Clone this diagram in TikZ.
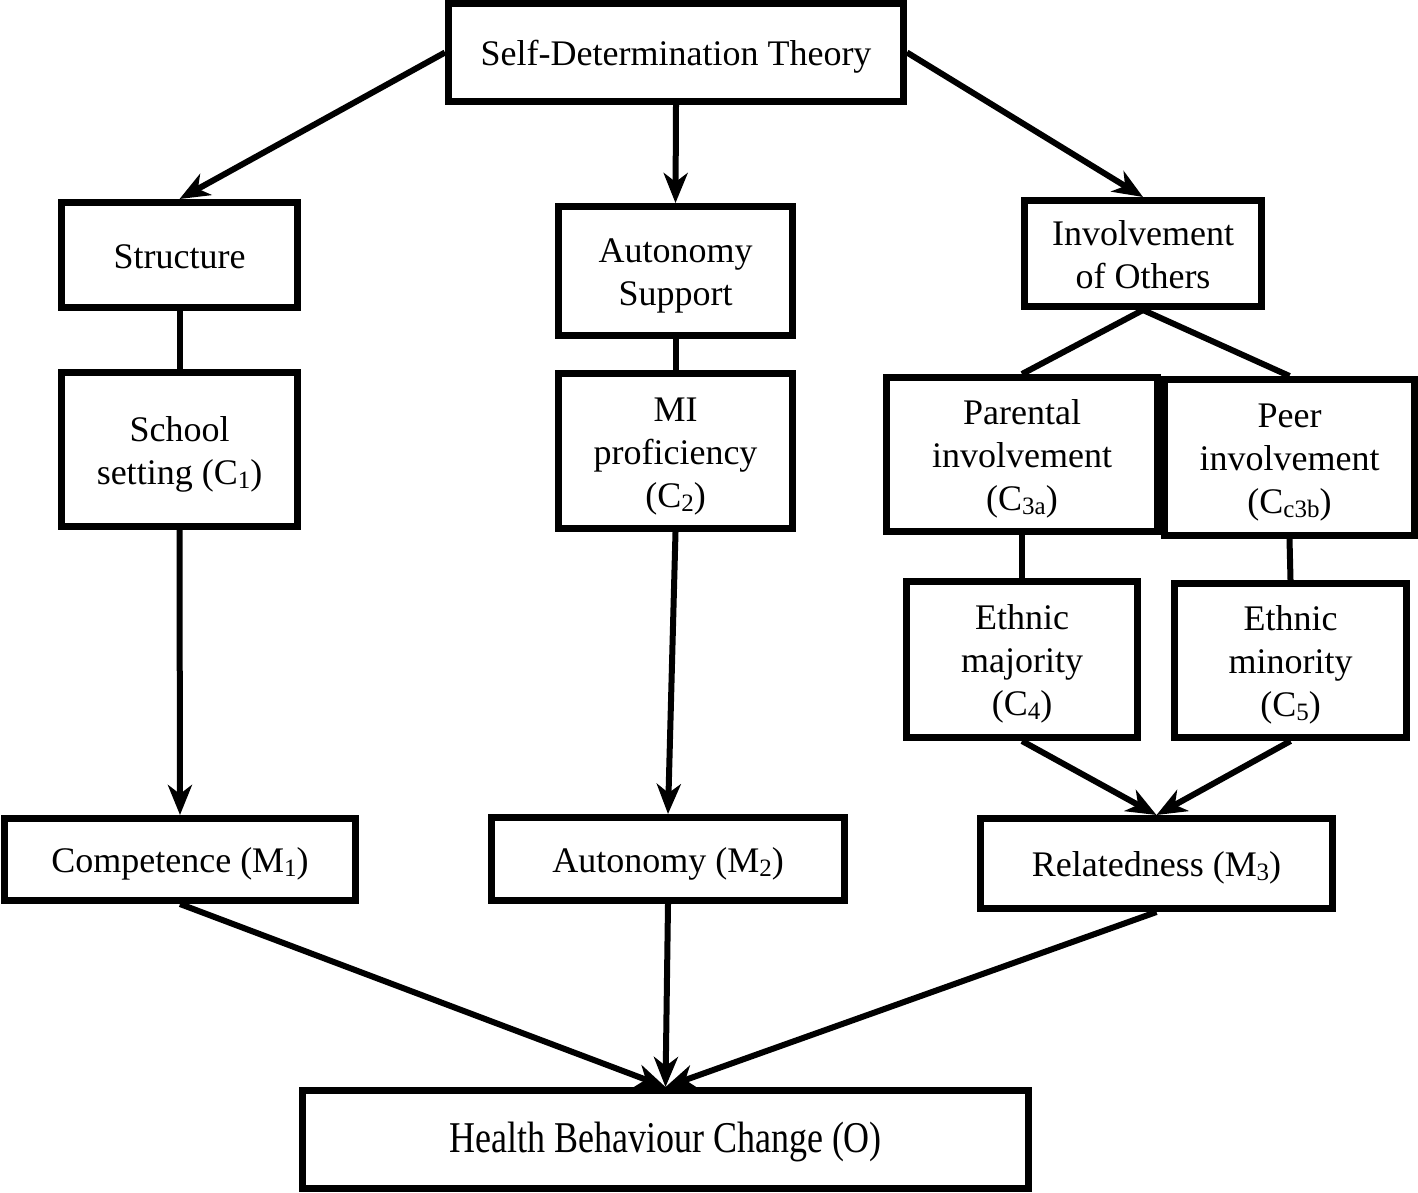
\documentclass[tikz,border=0pt]{standalone}
\usepackage{fontspec}
\setmainfont{Liberation Serif}
\usetikzlibrary{arrows.meta}
\newcommand\lowsub[1]{\raisebox{-0.25ex}{\fontsize{25}{25}\selectfont #1}}
\newcommand\bt[1]{\raisebox{-4.5pt}[\height][\depth]{\begin{tabular}{@{}c@{}}#1\end{tabular}}}
\begin{document}
\begin{tikzpicture}[x=1pt,y=-1pt,
  box/.style={draw, line width=7pt, inner sep=0pt, align=center,
    font=\fontsize{36}{43}\selectfont},
  conn/.style={line width=6pt},
  arr/.style={line width=6pt, -{Stealth[length=30pt,width=24pt,inset=9pt]}}]
\useasboundingbox (0,0) rectangle (1418,1192);
\node[box, minimum width=455pt, minimum height=98pt] (sdt) at (676,52.5) {\bt{Self-Determination Theory}};
\node[box, minimum width=236pt, minimum height=105pt] (str) at (179.5,255) {\bt{Structure}};
\node[box, minimum width=234pt, minimum height=129pt] (aus) at (675.5,271) {\bt{Autonomy\\Support}};
\node[box, minimum width=237pt, minimum height=106pt] (inv) at (1143,253.5) {\bt{Involvement\\of Others}};
\node[box, minimum width=236pt, minimum height=154pt] (sch) at (179.5,449.5) {\bt{School\\setting (C\lowsub{1})}};
\node[box, minimum width=234pt, minimum height=155pt] (mi) at (675.5,451) {\bt{MI\\proficiency\\(C\lowsub{2})}};
\node[box, minimum width=271pt, minimum height=154pt] (par) at (1022,454.5) {\bt{Parental\\involvement\\(C\lowsub{3a})}};
\node[box, minimum width=250pt, minimum height=156pt] (peer) at (1289.5,457.5) {\bt{Peer\\involvement\\(C\lowsub{c3b})}};
\node[box, minimum width=231pt, minimum height=156pt] (maj) at (1022,659.5) {\bt{Ethnic\\majority\\(C\lowsub{4})}};
\node[box, minimum width=232pt, minimum height=154pt] (min) at (1290.5,660.5) {\bt{Ethnic\\minority\\(C\lowsub{5})}};
\node[box, minimum width=351pt, minimum height=82pt] (comp) at (180,859.5) {\bt{Competence (M\lowsub{1})}};
\node[box, minimum width=353pt, minimum height=83pt] (aut) at (668,859) {\bt{Autonomy (M\lowsub{2})}};
\node[box, minimum width=352pt, minimum height=90pt] (rel) at (1156.5,863.5) {\bt{Relatedness (M\lowsub{3})}};
\node[box, minimum width=726pt, minimum height=98pt] (hbc) at (665.5,1139.5) {\bt{\scalebox{1}[1.22]{Health Behaviour Change (O)}}};
\draw[arr] (sdt.west) -- (str.north);
\draw[arr] (sdt.south) -- (aus.north);
\draw[arr] (sdt.east) -- (inv.north);
\draw[conn] (str.south) -- (sch.north);
\draw[conn] (aus.south) -- (mi.north);
\draw[conn] (inv.south) -- (par.north);
\draw[conn] (inv.south) -- (peer.north);
\draw[conn] (par.south) -- (maj.north);
\draw[conn] (peer.south) -- (min.north);
\draw[arr] (sch.south) -- (comp.north);
\draw[arr] (mi.south) -- (aut.north);
\draw[arr] (maj.south) -- (rel.north);
\draw[arr] (min.south) -- (rel.north);
\draw[arr] (comp.south) -- (hbc.north);
\draw[arr] (aut.south) -- (hbc.north);
\draw[arr] (rel.south) -- (hbc.north);
\end{tikzpicture}
\end{document}
